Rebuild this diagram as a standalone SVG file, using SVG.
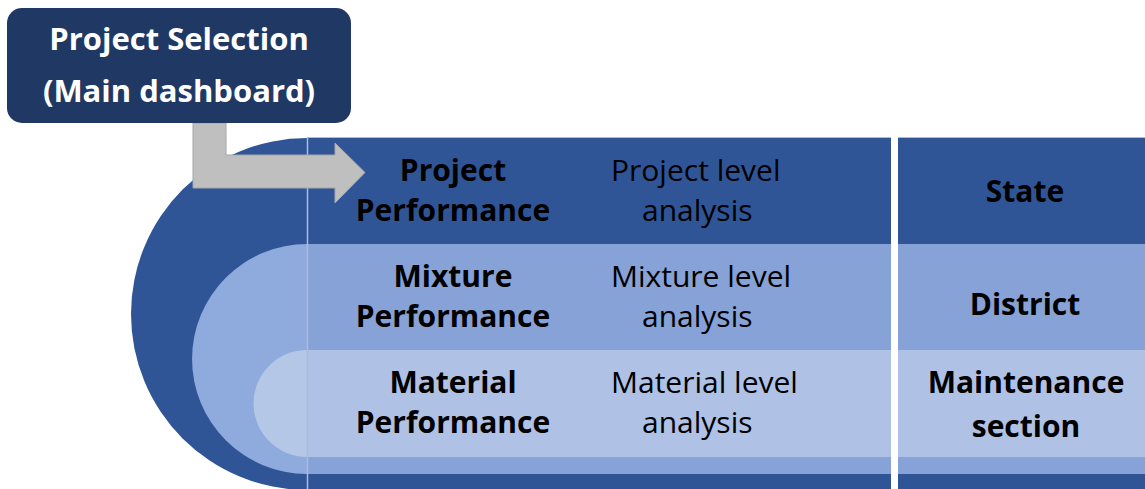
<svg xmlns="http://www.w3.org/2000/svg" width="1145" height="489" viewBox="0 0 1145 489">
  <style>
    .hdr { font-family: "Open Sans", "Liberation Sans", sans-serif; font-weight: 700; font-size: 31px; fill: #ffffff; text-anchor: middle; }
    .lvl { font-family: "Open Sans", "Liberation Sans", sans-serif; font-weight: 700; font-size: 30px; fill: #000000; text-anchor: middle; }
    .desc { font-family: "Open Sans", "Liberation Sans", sans-serif; font-weight: 400; font-size: 30px; fill: #000000; }
    .dark { fill: #2F5597; }
    .mid { fill: #8FAADC; }
    .light { fill: #B4C7E7; }
    .midT { fill: #87A2D6; }
    .lightT { fill: #AFC2E5; }
  </style>

  <!-- nested rounded bands on the left -->
  <g id="bands">
    <path class="dark" d="M307,138 A176,176 0 0 0 307,490 L891,490 L891,138 Z"/>
    <path class="mid" d="M307,244 A115,115 0 0 0 307,474 L891,474 L891,244 Z"/>
    <path class="light" d="M307,350 A53.5,53.5 0 0 0 307,457 L891,457 L891,350 Z"/>
  </g>

  <!-- level table -->
  <g id="level-table">
    <rect class="dark" x="307" y="138" width="584" height="106"/>
    <rect class="midT" x="307" y="244" width="584" height="106"/>
    <rect class="lightT" x="307" y="350" width="584" height="107"/>
    <rect class="midT" x="307" y="457" width="584" height="17"/>
    <rect class="dark" x="307" y="474" width="584" height="16"/>
    <line x1="307.5" y1="138" x2="307.5" y2="489" stroke="#A9BCE0" stroke-width="1.5"/>
    <line x1="307" y1="137.5" x2="891" y2="137.5" stroke="#A9BCE0" stroke-width="1"/>
  </g>

  <!-- location table -->
  <g id="location-table">
    <rect class="dark" x="898" y="138" width="247" height="106"/>
    <rect class="midT" x="898" y="244" width="247" height="106"/>
    <rect class="lightT" x="898" y="350" width="247" height="107"/>
    <rect class="midT" x="898" y="457" width="247" height="17"/>
    <rect class="dark" x="898" y="474" width="247" height="16"/>
    <line x1="898" y1="137.5" x2="1145" y2="137.5" stroke="#A9BCE0" stroke-width="1"/>
  </g>

  <!-- connector from the dashboard box -->
  <g id="connectors">
    <path d="M193,123 L226,123 L226,155 L335,155 L335,143 L365,172.5 L335,203 L335,188 L193,188 Z" fill="#BFBFBF" stroke="#A6A6A6" stroke-width="1"/>
  </g>

  <g id="node-dashboard">
    <rect x="7" y="8" width="344" height="115" rx="15" ry="15" fill="#203864"/>
    <text class="hdr" x="179" y="50">Project Selection</text>
    <text class="hdr" x="179" y="102">(Main dashboard)</text>
  </g>

  <g id="node-project">
    <text class="lvl" x="453" y="181">Project</text>
    <text class="lvl" x="453" y="221">Performance</text>
    <text class="desc" x="611" y="181">Project level</text>
    <text class="desc" x="642" y="221">analysis</text>
  </g>

  <g id="node-mixture">
    <text class="lvl" x="453" y="287">Mixture</text>
    <text class="lvl" x="453" y="327">Performance</text>
    <text class="desc" x="611" y="287">Mixture level</text>
    <text class="desc" x="642" y="327">analysis</text>
  </g>

  <g id="node-material">
    <text class="lvl" x="453" y="393">Material</text>
    <text class="lvl" x="453" y="433">Performance</text>
    <text class="desc" x="611" y="393">Material level</text>
    <text class="desc" x="642" y="433">analysis</text>
  </g>

  <g id="node-state">
    <text class="lvl" x="1025" y="202">State</text>
  </g>
  <g id="node-district">
    <text class="lvl" x="1025" y="315">District</text>
  </g>
  <g id="node-section">
    <text class="lvl" x="1026" y="393">Maintenance</text>
    <text class="lvl" x="1026" y="437">section</text>
  </g>
</svg>
